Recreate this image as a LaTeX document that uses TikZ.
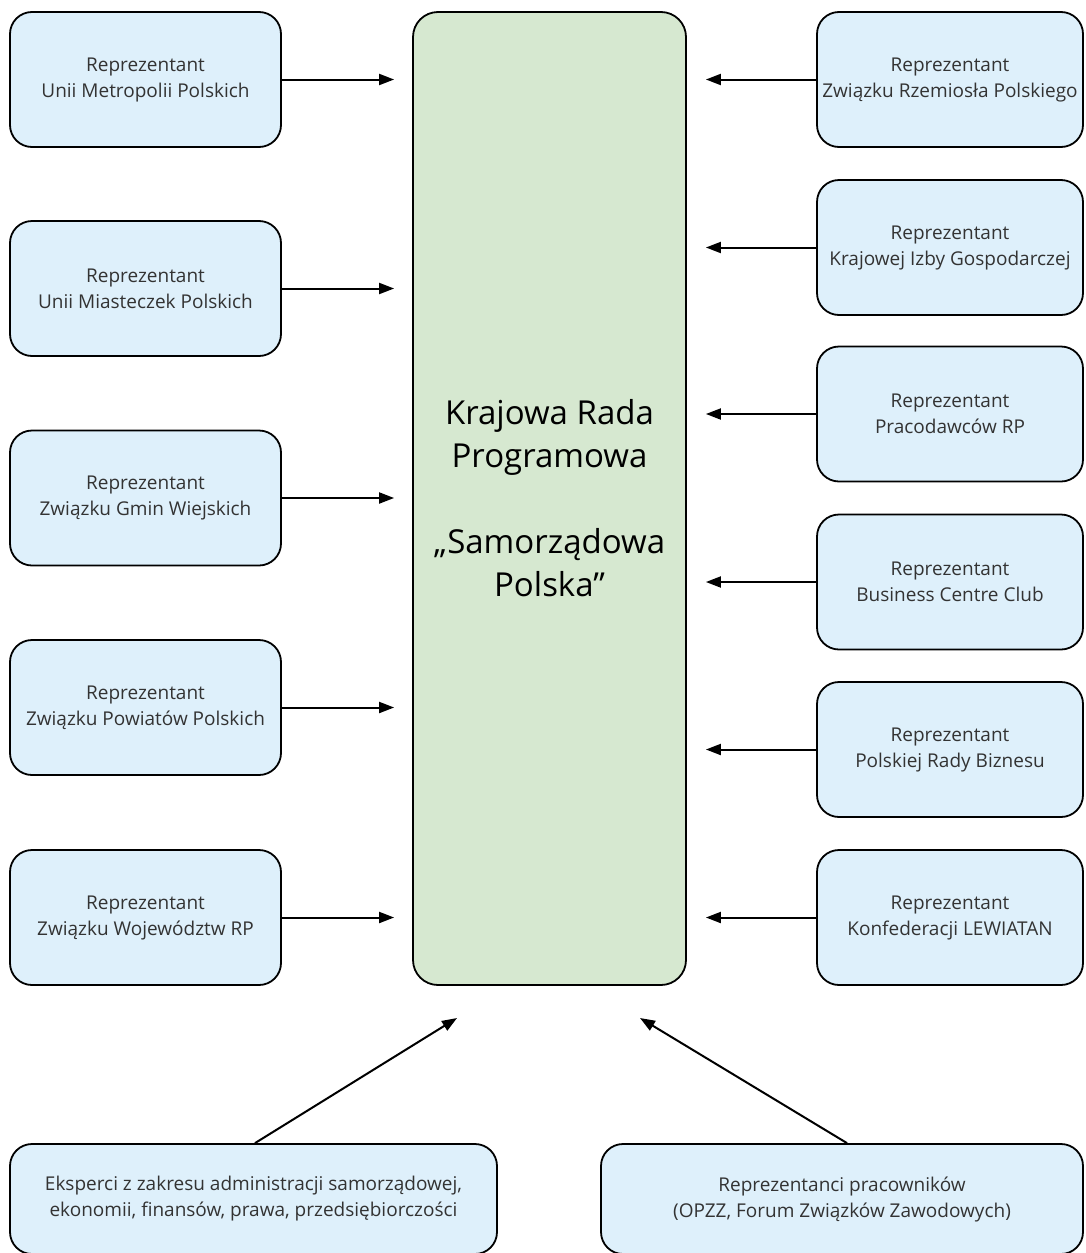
\documentclass[tikz,border=0pt]{standalone}
\usepackage{fontspec}
\setmainfont{Open Sans}
\usetikzlibrary{arrows.meta}
\definecolor{repblue}{RGB}{222,240,251}
\definecolor{radagreen}{RGB}{214,232,208}

\begin{document}
\begin{tikzpicture}[x=1pt,y=-1pt,
  rep/.style={draw,line width=1.8pt,rounded corners=22pt,fill=repblue,
    minimum width=271pt,minimum height=135pt,align=center,inner sep=0pt,
    text=black!80,font=\fontsize{19}{26}\selectfont},
  link/.style={line width=2pt,-{Triangle[length=15pt,width=11pt]}}]
\useasboundingbox (0,0) rectangle (1085,1253);

% Rada (centre)
\node[draw,line width=1.8pt,rounded corners=25pt,fill=radagreen,
  minimum width=273pt,minimum height=973pt,align=center,
  font=\fontsize{33}{43}\selectfont] (rada) at (549.5,498.5)
  {Krajowa Rada\\Programowa\\[43pt]„Samorządowa\\Polska”};

% Samorzady (left)
\node[rep] (metropolie) at (145.5,79.5) {Reprezentant\\Unii Metropolii Polskich};
\node[rep] (miasteczka) at (145.5,288.5) {Reprezentant\\Unii Miasteczek Polskich};
\node[rep] (gminy) at (145.5,498) {Reprezentant\\Związku Gmin Wiejskich};
\node[rep] (powiaty) at (145.5,707.5) {Reprezentant\\Związku Powiatów Polskich};
\node[rep] (wojewodztwa) at (145.5,917.5) {Reprezentant\\Związku Województw RP};

\foreach \n in {metropolie,miasteczka,gminy,powiaty,wojewodztwa}
  \draw[link,shorten >=18pt] (\n.east) -- (\n.east -| rada.west);

% Pracodawcy (right)
\node[rep,minimum width=266pt] (rzemioslo) at (950,79.5) {Reprezentant\\Związku Rzemiosła Polskiego};
\node[rep,minimum width=266pt] (kig) at (950,247.5) {Reprezentant\\Krajowej Izby Gospodarczej};
\node[rep,minimum width=266pt] (pracodawcy) at (950,414) {Reprezentant\\Pracodawców RP};
\node[rep,minimum width=266pt] (bcc) at (950,582) {Reprezentant\\Business Centre Club};
\node[rep,minimum width=266pt] (prb) at (950,749.5) {Reprezentant\\Polskiej Rady Biznesu};
\node[rep,minimum width=266pt] (lewiatan) at (950,917.5) {Reprezentant\\Konfederacji LEWIATAN};

\foreach \n in {rzemioslo,kig,pracodawcy,bcc,prb,lewiatan}
  \draw[link,shorten >=19pt] (\n.west) -- (\n.west -| rada.east);

% Eksperci i pracownicy (bottom)
\node[rep,minimum width=487pt,minimum height=110pt] (eksperci) at (253.5,1199)
  {Eksperci z zakresu administracji samorządowej,\\ekonomii, finansów, prawa, przedsiębiorczości};
\node[rep,minimum width=482pt,minimum height=110pt] (pracownicy) at (842,1199)
  {Reprezentanci pracowników\\(OPZZ, Forum Związków Zawodowych)};

\coordinate (eksIn) at (457,1018);
\coordinate (pracIn) at (640,1018);
\draw[link] ([xshift=1.5pt]eksperci.north) -- (eksIn);
\draw[link] ([xshift=5pt]pracownicy.north) -- (pracIn);
\end{tikzpicture}
\end{document}
